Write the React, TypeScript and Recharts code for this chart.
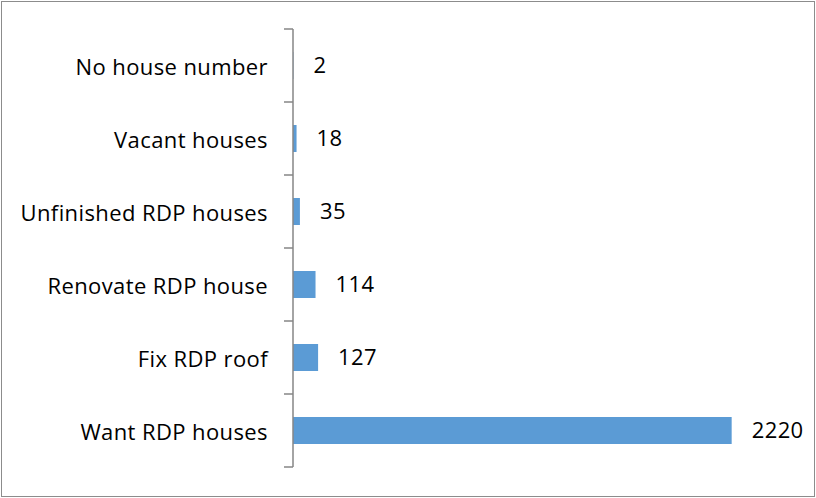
import { BarChart, Bar, XAxis, YAxis, LabelList } from "recharts";

const categories = [
  "No house number",
  "Vacant houses",
  "Unfinished RDP houses",
  "Renovate RDP house",
  "Fix RDP roof",
  "Want RDP houses",
];
const counts = [2, 18, 35, 114, 127, 2220];

const data = categories.map((name, i) => ({ name, count: counts[i] }));

const FONT = "'Open Sans', Lato, sans-serif";
const W = 816;
const H = 498;
const MARGIN = { top: 29, right: 29, bottom: 31, left: 0 };
const BAND = (H - MARGIN.top - MARGIN.bottom) / categories.length;
const AXIS_COLOR = "#868686";

function CategoryTick(props: any) {
  const { x, y, payload, index } = props;
  const axisX = x + 25;
  const last = index === categories.length - 1;
  return (
    <g>
      <line
        x1={axisX - 9}
        x2={axisX}
        y1={y - BAND / 2}
        y2={y - BAND / 2}
        stroke={AXIS_COLOR}
        strokeWidth={1.5}
      />
      {last && (
        <line
          x1={axisX - 9}
          x2={axisX}
          y1={y + BAND / 2}
          y2={y + BAND / 2}
          stroke={AXIS_COLOR}
          strokeWidth={1.5}
        />
      )}
      <text
        x={x}
        y={y}
        textAnchor="end"
        dominantBaseline="central"
        fill="#000"
        fontSize={22}
        fontFamily={FONT}
        letterSpacing={0.4}
      >
        {payload.value}
      </text>
    </g>
  );
}

export default function App() {
  return (
    <div
      style={{
        position: "absolute",
        left: 0,
        top: 0,
        width: W,
        height: H,
        background: "#fff",
        fontFamily: FONT,
      }}
    >
      <div
        style={{
          position: "absolute",
          left: 1,
          top: 1,
          width: 812,
          height: 494,
          border: "1px solid #8c8c8c",
        }}
      />
      <BarChart
        width={W}
        height={H}
        layout="vertical"
        data={data}
        margin={MARGIN}
        barCategoryGap={0}
      >
        <XAxis type="number" domain={[0, 2500]} hide />
        <YAxis
          type="category"
          dataKey="name"
          width={293}
          tickLine={false}
          axisLine={{ stroke: AXIS_COLOR, strokeWidth: 1.5 }}
          tickSize={0}
          tickMargin={25}
          tick={<CategoryTick />}
          interval={0}
        />
        <Bar dataKey="count" fill="#5b9bd5" barSize={27} isAnimationActive={false}>
          <LabelList
            dataKey="count"
            position="right"
            offset={20}
            fill="#000"
            fontSize={22}
            fontFamily={FONT}
            letterSpacing={0.4}
          />
        </Bar>
      </BarChart>
    </div>
  );
}
